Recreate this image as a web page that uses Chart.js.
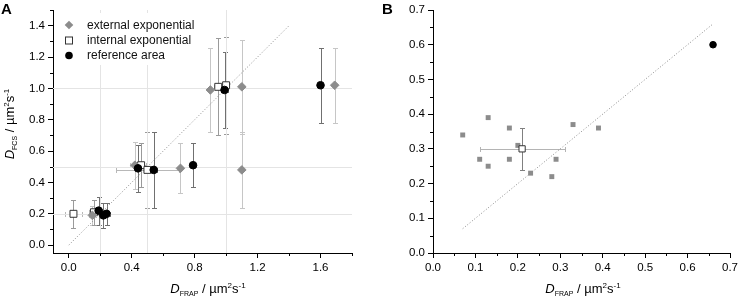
<!DOCTYPE html>
<html><head><meta charset="utf-8">
<script src="https://cdn.jsdelivr.net/npm/chart.js@4.4.1/dist/chart.umd.min.js"></script>
<style>
html,body{margin:0;padding:0;background:#fff;width:741px;height:298px;overflow:hidden}
canvas{position:absolute;top:0}
#ca{left:0}
#cb{left:380px}
</style></head><body>
<canvas id="ca" width="380" height="298"></canvas>
<canvas id="cb" width="361" height="298"></canvas>
<script>
// ---------- Panel A data ----------
const extX    = [0.15, 0.42, 0.71, 0.90, 1.10, 1.10, 1.69];
const extY    = [0.19, 0.51, 0.49, 0.99, 1.01, 0.48, 1.02];
const extErrX = [0.02, 0.03, 0.00, 0.00, 0.00, 0.00, 0.00];
const extErrY = [0.06, 0.15, 0.16, 0.27, 0.30, 0.24, 0.24];

const intX    = [0.03, 0.16, 0.46, 0.50, 0.95, 1.00];
const intY    = [0.20, 0.21, 0.51, 0.48, 1.01, 1.02];
const intErrX = [0.055, 0.03, 0.03, 0.20, 0.03, 0.02];
const intErrY = [0.09, 0.08, 0.14, 0.24, 0.31, 0.31];

const refX    = [0.19, 0.22, 0.24, 0.44, 0.54, 0.79, 0.99, 1.60];
const refY    = [0.22, 0.19, 0.20, 0.49, 0.48, 0.51, 0.99, 1.02];
const refErrX = [0.02, 0.02, 0.02, 0.02, 0.02, 0.00, 0.02, 0.00];
const refErrY = [0.09, 0.08, 0.07, 0.15, 0.24, 0.14, 0.24, 0.24];

const diagA = [0, 1.4];
const guideA = [0.2, 0.5, 1.0];

const A_xTicks = [0, 0.4, 0.8, 1.2, 1.6];
const A_xTickLabels = ['0.0', '0.4', '0.8', '1.2', '1.6'];
const A_xMinor = [0.2, 0.6, 1.0, 1.4, 1.8];
const A_yTicks = [0, 0.2, 0.4, 0.6, 0.8, 1.0, 1.2, 1.4];
const A_yTickLabels = ['0.0', '0.2', '0.4', '0.6', '0.8', '1.0', '1.2', '1.4'];
const A_yMinor = [0.1, 0.3, 0.5, 0.7, 0.9, 1.1, 1.3, 1.5];

const legendA = ['external exponential', 'internal exponential', 'reference area'];

// ---------- Panel B data ----------
const bX = [0.07, 0.11, 0.13, 0.13, 0.18, 0.18, 0.20, 0.23, 0.28, 0.29, 0.33, 0.39];
const bY = [0.34, 0.27, 0.39, 0.25, 0.36, 0.27, 0.31, 0.23, 0.22, 0.27, 0.37, 0.36];
const meanX = [0.21], meanY = [0.30], meanErrX = [0.10], meanErrY = [0.06];
const bRefX = [0.66], bRefY = [0.60];
const diagB = [0.07, 0.66];

const B_ticks = [0, 0.1, 0.2, 0.3, 0.4, 0.5, 0.6, 0.7];
const B_tickLabels = ['0.0', '0.1', '0.2', '0.3', '0.4', '0.5', '0.6', '0.7'];
const B_minor = [0.05, 0.15, 0.25, 0.35, 0.45, 0.55, 0.65];

// ---------- helpers ----------
const FAM = '"Liberation Sans", Arial, Helvetica, sans-serif';
const pts = (xs, ys) => xs.map((x, i) => ({x: x, y: ys[i]}));

function richText(ctx, parts, x, y, rot) {
  ctx.save();
  ctx.translate(x, y);
  if (rot) ctx.rotate(rot);
  let w = 0;
  parts.forEach(p => { ctx.font = p.f; w += ctx.measureText(p.t).width; });
  let cx = -w / 2;
  ctx.textBaseline = 'alphabetic';
  ctx.textAlign = 'left';
  ctx.fillStyle = '#000';
  parts.forEach(p => { ctx.font = p.f; ctx.fillText(p.t, cx, p.dy || 0); cx += ctx.measureText(p.t).width; });
  ctx.restore();
}
function titleParts(sub) {
  return [
    {t: 'D', f: 'italic 13px ' + FAM},
    {t: sub, f: '7px ' + FAM, dy: 3},
    {t: ' / \u00b5m', f: '13px ' + FAM},
    {t: '2', f: '8px ' + FAM, dy: -5},
    {t: 's', f: '13px ' + FAM},
    {t: '-1', f: '8px ' + FAM, dy: -5}
  ];
}

const errorBars = {
  id: 'errorBars',
  beforeDatasetsDraw(chart) {
    const ctx = chart.ctx, xs = chart.scales.x, ys = chart.scales.y;
    chart.data.datasets.forEach(ds => {
      if (!ds.errX && !ds.errY) return;
      ctx.save();
      ctx.lineWidth = 1;
      const cap = 2.5;
      ds.data.forEach((p, j) => {
        const px = Math.round(xs.getPixelForValue(p.x)) + 0.5;
        const py = Math.round(ys.getPixelForValue(p.y)) + 0.5;
        const ex = ds.errX ? ds.errX[j] : 0, ey = ds.errY ? ds.errY[j] : 0;
        if (ex > 0) {
          const l = Math.round(xs.getPixelForValue(p.x - ex)) + 0.5;
          const r = Math.round(xs.getPixelForValue(p.x + ex)) + 0.5;
          ctx.strokeStyle = ds.errColorX || ds.errColor;
          ctx.beginPath();
          ctx.moveTo(l, py); ctx.lineTo(r, py);
          ctx.moveTo(l, py - cap); ctx.lineTo(l, py + cap);
          ctx.moveTo(r, py - cap); ctx.lineTo(r, py + cap);
          ctx.stroke();
        }
        if (ey > 0) {
          const t = Math.round(ys.getPixelForValue(p.y + ey)) + 0.5;
          const b = Math.round(ys.getPixelForValue(p.y - ey)) + 0.5;
          ctx.strokeStyle = ds.errColorY || ds.errColor;
          ctx.beginPath();
          ctx.moveTo(px, t); ctx.lineTo(px, b);
          ctx.moveTo(px - cap, t); ctx.lineTo(px + cap, t);
          ctx.moveTo(px - cap, b); ctx.lineTo(px + cap, b);
          ctx.stroke();
        }
      });
      ctx.restore();
    });
  }
};

function decoPlugin(cfg) {
  return {
    id: 'deco',
    beforeDatasetsDraw(chart) {
      const ctx = chart.ctx, xs = chart.scales.x, ys = chart.scales.y, ca = chart.chartArea;
      ctx.save();
      if (cfg.guides) {
        ctx.strokeStyle = '#e4e4e4';
        ctx.lineWidth = 1;
        ctx.beginPath();
        cfg.guides.forEach(v => {
          const gx = Math.round(xs.getPixelForValue(v)) + 0.5;
          ctx.moveTo(gx, ca.top); ctx.lineTo(gx, ca.bottom);
          const gy = Math.round(ys.getPixelForValue(v)) + 0.5;
          ctx.moveTo(ca.left, gy); ctx.lineTo(ca.right, gy);
        });
        ctx.stroke();
      }
      ctx.restore();
    },
    afterDraw(chart) {
      const ctx = chart.ctx, xs = chart.scales.x, ys = chart.scales.y, ca = chart.chartArea;
      ctx.save();
      // minor ticks
      ctx.strokeStyle = '#000';
      ctx.lineWidth = 1;
      ctx.beginPath();
      cfg.minorX.forEach(v => {
        const px = Math.round(xs.getPixelForValue(v)) + 0.5;
        ctx.moveTo(px, ca.bottom); ctx.lineTo(px, ca.bottom + 3);
      });
      cfg.minorY.forEach(v => {
        const py = Math.round(ys.getPixelForValue(v)) + 0.5;
        ctx.moveTo(ca.left, py); ctx.lineTo(ca.left - 3, py);
      });
      ctx.stroke();
      // legend
      if (cfg.legend) {
        ctx.fillStyle = '#fff';
        ctx.fillRect(ca.left + 2, 13, 145, 52);
        const lx = 69, ly = [25, 40.5, 55.5];
        // diamond
        ctx.fillStyle = '#8c8c8c';
        ctx.beginPath();
        ctx.moveTo(lx - 4.3, ly[0]); ctx.lineTo(lx, ly[0] - 4.3); ctx.lineTo(lx + 4.3, ly[0]); ctx.lineTo(lx, ly[0] + 4.3);
        ctx.closePath(); ctx.fill();
        // open square
        ctx.fillStyle = '#fff'; ctx.strokeStyle = '#333';
        ctx.fillRect(lx - 3.5, ly[1] - 3.5, 7, 7);
        ctx.strokeRect(lx - 3.5, ly[1] - 3.5, 7, 7);
        // circle
        ctx.fillStyle = '#000';
        ctx.beginPath(); ctx.arc(lx, ly[2], 3.8, 0, Math.PI * 2); ctx.fill();
        ctx.font = '12px ' + FAM;
        ctx.fillStyle = '#111';
        ctx.textBaseline = 'middle';
        ctx.textAlign = 'left';
        cfg.legend.forEach((t, i) => ctx.fillText(t, 87, ly[i] + 0.5));
      }
      // panel letter
      ctx.font = 'bold 15px ' + FAM;
      ctx.fillStyle = '#000';
      ctx.textBaseline = 'alphabetic';
      ctx.textAlign = 'left';
      ctx.fillText(cfg.letter, cfg.letterX, 14);
      // titles
      richText(ctx, titleParts('FRAP'), cfg.xTitleX, 293, 0);
      if (cfg.yTitle) richText(ctx, titleParts('FCS'), 14, 124, -Math.PI / 2);
      ctx.restore();
    }
  };
}

function axis(min, max, tickVals, tickLabels, isX, fitSize) {
  return {
    type: 'linear', min: min, max: max,
    afterBuildTicks: s => { s.ticks = tickVals.map(v => ({value: v})); },
    afterFit: s => { if (isX) s.height = fitSize; else s.width = fitSize; },
    ticks: {
      autoSkip: false, maxRotation: 0, padding: 3, color: '#000',
      font: {family: FAM, size: 11.5},
      callback: (v, i) => tickLabels[i]
    },
    grid: {display: true, drawOnChartArea: false, drawTicks: true, tickLength: 5, color: '#000', lineWidth: 1},
    border: {display: true, color: '#000', width: 1}
  };
}

const common = {
  responsive: false, animation: false, events: [],
  plugins: {legend: {display: false}, tooltip: {enabled: false}}
};

// ---------- Chart A ----------
new Chart(document.getElementById('ca'), {
  type: 'scatter',
  data: {
    datasets: [
      {label: legendA[2], data: pts(refX, refY), pointStyle: 'circle', pointRadius: 3.8,
       backgroundColor: '#000', borderColor: '#000', borderWidth: 1,
       errX: refErrX, errY: refErrY, errColor: '#707070'},
      {label: legendA[0], data: pts(extX, extY), pointStyle: 'rectRot', pointRadius: 4.3,
       backgroundColor: '#8c8c8c', borderColor: '#8c8c8c', borderWidth: 1,
       errX: extErrX, errY: extErrY, errColor: '#c6c6c6'},
      {label: legendA[1], data: pts(intX, intY), pointStyle: 'rect', pointRadius: 4.9,
       backgroundColor: '#fff', borderColor: '#333', borderWidth: 1,
       errX: intErrX, errY: intErrY, errColor: '#9a9a9a', errColorX: '#b8b8b8'},
      {label: 'diag', type: 'line', data: pts(diagA, diagA), borderColor: '#8a8a8a', borderWidth: 1,
       borderDash: [1, 2], pointRadius: 0, fill: false}
    ]
  },
  options: Object.assign({}, common, {
    layout: {padding: {left: 0, right: 28, top: 10, bottom: 0}},
    scales: {
      x: axis(-0.1, 1.8, A_xTicks, A_xTickLabels, true, 45),
      y: axis(-0.05, 1.5, A_yTicks, A_yTickLabels, false, 53)
    }
  }),
  plugins: [errorBars, decoPlugin({guides: guideA, minorX: A_xMinor, minorY: A_yMinor, legend: legendA,
    letter: 'A', letterX: 1, xTitleX: 208, yTitle: true})]
});

// ---------- Chart B ----------
new Chart(document.getElementById('cb'), {
  type: 'scatter',
  data: {
    datasets: [
      {label: 'mean', data: pts(meanX, meanY), pointStyle: 'rect', pointRadius: 4.4,
       backgroundColor: '#fff', borderColor: '#333', borderWidth: 1,
       errX: meanErrX, errY: meanErrY, errColorX: '#b4b4b4', errColorY: '#808080'},
      {label: 'reference', data: pts(bRefX, bRefY), pointStyle: 'circle', pointRadius: 3.3,
       backgroundColor: '#000', borderColor: '#000', borderWidth: 1},
      {label: 'cells', data: pts(bX, bY), pointStyle: 'rect', pointRadius: 3.5,
       backgroundColor: '#8c8c8c', borderColor: '#8c8c8c', borderWidth: 0},
      {label: 'diag', type: 'line', data: pts(diagB, diagB), borderColor: '#8a8a8a', borderWidth: 1,
       borderDash: [1, 2], pointRadius: 0, fill: false}
    ]
  },
  options: Object.assign({}, common, {
    layout: {padding: {left: 0, right: 9, top: 10, bottom: 0}},
    scales: {
      x: axis(0, 0.7, B_ticks, B_tickLabels, true, 45),
      y: axis(0, 0.7, B_ticks, B_tickLabels, false, 53)
    }
  }),
  plugins: [errorBars, decoPlugin({minorX: B_minor, minorY: B_minor,
    letter: 'B', letterX: 2, xTitleX: 203, yTitle: false})]
});
</script>
</body></html>
